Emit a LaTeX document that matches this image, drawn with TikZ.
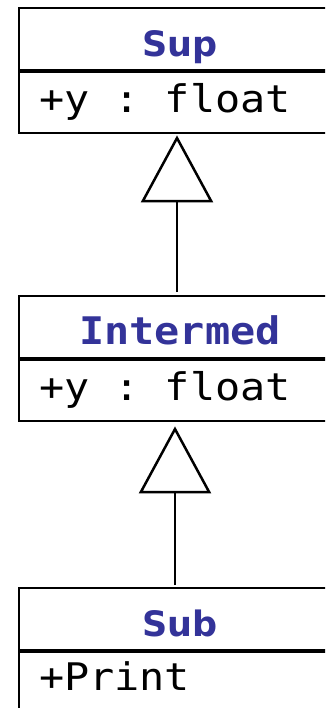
\documentclass[tikz,border=0pt]{standalone}
\usepackage{fontspec}
\usetikzlibrary{arrows.meta}
\newfontfamily\attrfont[FakeStretch=1.1]{DejaVu Sans Mono}
\newfontfamily\titlefont{DejaVu Sans}
\definecolor{classblue}{RGB}{51,51,153}
\begin{document}
\begin{tikzpicture}[x=1pt,y=-1pt,
  compartment/.style={draw=black,line width=2.2pt,inner ysep=0pt,
    minimum width=322pt,anchor=north},
  titlebox/.style={compartment,minimum height=62pt,text height=48pt,text depth=14pt,
    text=classblue,font=\titlefont\bfseries\fontsize{35}{40}\selectfont},
  monotitle/.style={titlebox,font=\attrfont\bfseries\fontsize{38}{44}\selectfont},
  attrbox/.style={compartment,minimum height=61pt},
  attrtext/.style={anchor=base west,inner sep=0pt,
    font=\attrfont\fontsize{38}{44}\selectfont\frenchspacing},
  inherits/.style={line width=2.5pt,
    -{Triangle[open,length=67pt,width=72pt]}}]
  \useasboundingbox (0,0) rectangle (325,708);
  \clip (0,0) rectangle (325,708);

  % superclass
  \node[titlebox] (supT) at (180,7) {Sup};
  \node[attrbox] (supA) at (supT.south) {};
  \node[attrtext] (supAt) at ([shift={(21,41)}]supA.north west) {+y : float};

  % intermediate class
  \node[monotitle] (intT) at (180,295) {Intermed};
  \node[attrbox] (intA) at (intT.south) {};
  \node[attrtext] (intAt) at ([shift={(21,41)}]intA.north west) {+y : float};

  % subclass
  \node[titlebox] (subT) at (180,587) {Sub};
  \node[attrbox] (subA) at (subT.south) {};
  \node[attrtext] (subAt) at ([shift={(21,39)}]subA.north west) {+Print};

  % generalisation arrows
  \draw[inherits,shorten <=3pt,shorten >=1pt]
    ([xshift=-3pt]intT.north) -- ([xshift=-3pt]supA.south);
  \draw[inherits,shorten <=2pt,shorten >=4pt]
    ([xshift=-5pt]subT.north) -- ([xshift=-5pt]intA.south);
\end{tikzpicture}
\end{document}
